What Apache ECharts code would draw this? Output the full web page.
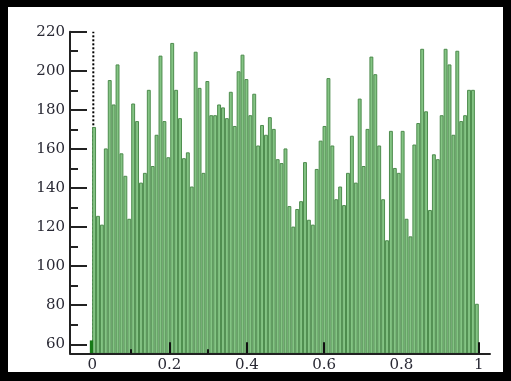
<!DOCTYPE html>
<html><head><meta charset="utf-8">
<script src="https://cdn.jsdelivr.net/npm/echarts@6/dist/echarts.min.js"></script>
<style>html,body{margin:0;padding:0;background:#000}#c{width:511px;height:381px}</style>
</head><body><div id="c"></div>
<script>
// histogram counts, 99 equal bins over [0, 1]
const counts = [171,125.5,121,160,195,182.5,203,157.5,146,124,
183,174,142.5,147.5,190,151,167,207.5,174,155.5,
214,190,175.5,155,158,140.5,209.5,191,147.5,194.5,
177,177,182.5,181,175.5,189,171.5,199.5,208,195.5,
177,188,161.5,172,167,176,170,154.5,152.5,160,
130.5,120,129,133,153,123.5,121,149.5,164,171.5,
196,161.5,134,140.5,131,147.5,166.5,142.5,185.5,151,
170,207,198,161.5,134,113,169,150,147.5,169,
124,115,162,173,211,179,128.5,157,154.5,177,
211,203,167,210,174,177,190,190,80.5];
const binCount = 99;
const xLabelValues = [0,0.2,0.4,0.6,0.8,1];
const xMajorTicks = [0.2,0.4,0.6,1];
const xMinorTicks = [0.1,0.3];
const yLabelValues = [60,80,100,120,140,160,180,200,220];
const yMinorTicks = [70,90,110,130,150,170,190,210];
const zeroMarker = {start:-0.006, end:0.0025, value:62};
const refLineX = 0.003;

const yMin = 55.4, yMax = 220;
const binData = counts.map((v,i)=>[i/binCount,(i+1)/binCount,v]);

const chart = echarts.init(document.getElementById('c'));
const font = 'DejaVu Serif';
chart.setOption({
  backgroundColor:'#000',
  animation:false,
  graphic:[{type:'rect',z:-10,shape:{x:8,y:7,width:495,height:365},style:{fill:'#fff'}}],
  grid:{left:70,right:21,top:31.7,bottom:27.7},
  xAxis:[{
    type:'value',min:-0.0573,max:1.029,z:5,
    axisLine:{onZero:false,lineStyle:{color:'#222',width:2}},
    splitLine:{show:false},
    axisTick:{inside:true,length:11,customValues:xMajorTicks,lineStyle:{color:'#111',width:2}},
    axisLabel:{customValues:xLabelValues,fontFamily:font,fontSize:15,color:'#2a2a35',margin:4,
      formatter:v=>String(+v.toFixed(1))}
  },{
    type:'value',min:-0.0573,max:1.029,position:'bottom',z:5,
    axisLine:{show:false,onZero:false},splitLine:{show:false},axisLabel:{show:false},
    axisTick:{inside:true,length:4,customValues:xMinorTicks,lineStyle:{color:'#111',width:2}}
  }],
  yAxis:[{
    type:'value',min:yMin,max:yMax,position:'left',
    axisLine:{show:true,onZero:false,lineStyle:{color:'#222',width:2}},
    splitLine:{show:false},
    axisTick:{inside:true,length:17,customValues:yLabelValues,lineStyle:{color:'#222',width:2}},
    axisLabel:{customValues:yLabelValues,fontFamily:font,fontSize:15,color:'#2a2a35',margin:5}
  },{
    type:'value',min:yMin,max:yMax,position:'left',offset:0,
    axisLine:{show:false,onZero:false},splitLine:{show:false},axisLabel:{show:false},
    axisTick:{show:true,inside:true,length:8,customValues:yMinorTicks,lineStyle:{color:'#222',width:2}}
  }],
  series:[
    {type:'line',z:1,symbol:'none',data:[[refLineX,yMin],[refLineX,yMax]],
      lineStyle:{color:'#000',width:2,type:[2,2]}},
    {type:'custom',z:3,data:binData,encode:{x:[0,1],y:2},
      renderItem:(params,api)=>{
        const a = api.coord([api.value(0),api.value(2)]);
        const b = api.coord([api.value(1),yMin]);
        return {type:'rect',shape:{x:a[0]+0.5,y:a[1],width:b[0]-a[0]-1,height:b[1]-a[1]},
          style:{fill:'#84c484',stroke:'#4d8c4d',lineWidth:1}};
      }},
    {type:'custom',z:3,data:[[zeroMarker.start,zeroMarker.end,zeroMarker.value]],encode:{x:[0,1],y:2},
      renderItem:(params,api)=>{
        const a = api.coord([api.value(0),api.value(2)]);
        const b = api.coord([api.value(1),yMin]);
        return {type:'rect',shape:{x:a[0],y:a[1],width:b[0]-a[0],height:b[1]-a[1]},
          style:{fill:'#167a16'}};
      }}
  ]
});
</script></body></html>
